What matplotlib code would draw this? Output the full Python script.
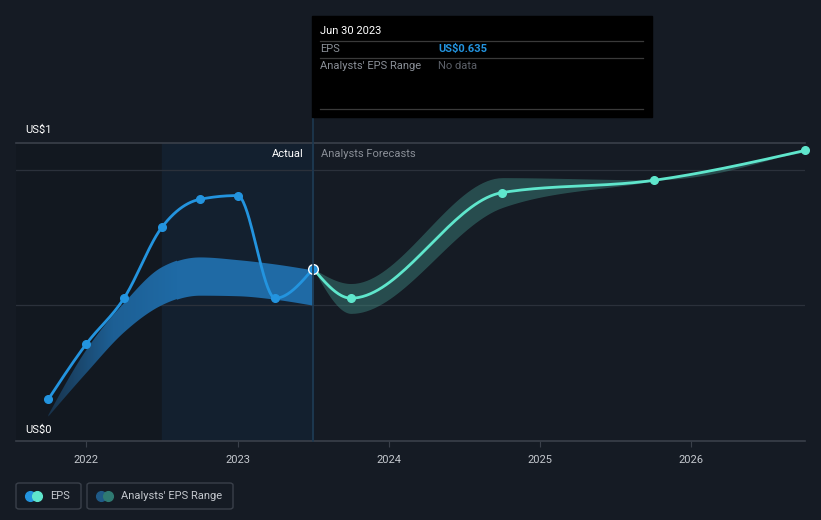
import numpy as np
import matplotlib
matplotlib.use("Agg")
import matplotlib.pyplot as plt
from matplotlib.patches import Rectangle, FancyBboxPatch
from matplotlib.colors import LinearSegmentedColormap

plt.rcParams['font.family'] = ['Roboto', 'DejaVu Sans']

# data (x in decimal years)
eps_x = [2021.75, 2022.0, 2022.25, 2022.5, 2022.75, 2023.0, 2023.25, 2023.5]
eps_y = [0.154, 0.357, 0.526, 0.787, 0.890, 0.904, 0.526, 0.635]

past_rng_x = [2021.75, 2022.0, 2022.25, 2022.5, 2022.75, 2023.0, 2023.25, 2023.5]
past_rng_hi = [0.096, 0.335, 0.508, 0.640, 0.678, 0.668, 0.652, 0.630]
past_rng_lo = [0.090, 0.250, 0.400, 0.500, 0.537, 0.535, 0.522, 0.500]

fc_x = [2023.5, 2023.75, 2024.75, 2025.75, 2026.75]
fc_y = [0.635, 0.526, 0.915, 0.960, 1.070]
fc_hi = [0.635, 0.580, 0.970, 0.962, 1.075]
fc_lo = [0.635, 0.470, 0.860, 0.958, 1.065]

years = [2022, 2023, 2024, 2025, 2026]

BG = '#151b24'
BLUE = '#2394df'
TEAL = '#5fe6cc'


def monotone(x, y, n=40):
    # d3 curveMonotoneX style smoothing for drawing
    x = np.asarray(x, float)
    y = np.asarray(y, float)
    h = np.diff(x)
    s = np.diff(y) / h
    t = np.zeros(len(x))
    for i in range(1, len(x) - 1):
        p = (s[i - 1] * h[i] + s[i] * h[i - 1]) / (h[i - 1] + h[i])
        t[i] = (np.sign(s[i - 1]) + np.sign(s[i])) * min(abs(s[i - 1]), abs(s[i]), 0.5 * abs(p))
    t[0] = (3 * s[0] - t[1]) / 2
    t[-1] = (3 * s[-1] - t[-2]) / 2
    xs, ys = [], []
    for i in range(len(x) - 1):
        u = np.linspace(0, 1, n)
        h00 = 2 * u**3 - 3 * u**2 + 1
        h10 = u**3 - 2 * u**2 + u
        h01 = -2 * u**3 + 3 * u**2
        h11 = u**3 - u**2
        xs.append(x[i] + u * h[i])
        ys.append(h00 * y[i] + h10 * h[i] * t[i] + h01 * y[i + 1] + h11 * h[i] * t[i + 1])
    return np.concatenate(xs), np.concatenate(ys)


W, H = 821, 520
fig = plt.figure(figsize=(W / 100, H / 100), dpi=100)
fig.patch.set_facecolor(BG)

x0, x1 = 16, 805
ytop, ybot = 143, 441
ax = fig.add_axes([x0 / W, 1 - ybot / H, (x1 - x0) / W, (ybot - ytop) / H])
ax.set_facecolor(BG)

px_per_year = 151.3
x2022 = 86.2
xmin = 2022 - (x2022 - x0) / px_per_year
xmax = 2022 + (x1 - x2022) / px_per_year
ymax = (ybot - ytop) / 271.5
ax.set_xlim(xmin, xmax)
ax.set_ylim(0, ymax)

# shaded regions
ax.axvspan(xmin, 2022.5, color='#121820', zorder=0)
ax.axvspan(2022.5, 2023.5, color='#13202f', zorder=0)
ax.axvline(2023.5, color='#1d3850', lw=1.2, zorder=1)

# grid
for g in [0.5, 1.0]:
    ax.axhline(g, color='#2b313b', lw=0.9, zorder=1)
ax.axhline(ymax, color='#3a404a', lw=1.2, zorder=1, clip_on=False)

for sp in ax.spines.values():
    sp.set_visible(False)
ax.axhline(0, color='#3a404a', lw=1.2, clip_on=False, zorder=1)

ax.set_yticks([])
ax.set_xticks(years)
ax.set_xticklabels([str(y) for y in years], color='#c4c8ce', fontsize=8)
ax.tick_params(axis='x', length=4, color='#3a404a', pad=6)

# past range band, fading in from the left
bx, bhi = monotone(past_rng_x, past_rng_hi)
_, blo = monotone(past_rng_x, past_rng_lo)
band = ax.fill_between(bx, blo, bhi, color='none', lw=0, zorder=2)
cmap = LinearSegmentedColormap.from_list('fade', ['#18324a', '#1d5f94', '#1f6aa5'])
grad = np.linspace(0, 1, 256).reshape(1, -1)
img = ax.imshow(grad, cmap=cmap, aspect='auto', extent=[past_rng_x[0], 2022.6, 0, 1.0],
                zorder=2, interpolation='bilinear')
img.set_clip_path(band.get_paths()[0], transform=ax.transData)
ax.fill_between(bx[bx >= 2022.59], blo[bx >= 2022.59], bhi[bx >= 2022.59], color='#1f6aa5', lw=0, zorder=2)
ax.set_xlim(xmin, xmax)
ax.set_ylim(0, ymax)

# forecast band
fx, fhi = monotone(fc_x, fc_hi)
_, flo = monotone(fc_x, fc_lo)
ax.fill_between(fx, flo, fhi, color='#3f8a82', alpha=0.45, lw=0, zorder=2)

# lines
lx, ly = monotone(eps_x, eps_y)
ax.plot(lx, ly, color=BLUE, lw=2.0, zorder=3, solid_capstyle='round')
ax.plot(eps_x[:-1], eps_y[:-1], 'o', color=BLUE, ms=5.5, zorder=4)

gx, gy = monotone(fc_x, fc_y)
ax.plot(gx, gy, color=TEAL, lw=2.0, zorder=3, solid_capstyle='round')
ax.plot(fc_x[1:], fc_y[1:], 'o', color=TEAL, ms=5.5, zorder=4, clip_on=False)

ax.plot(eps_x[-1], eps_y[-1], 'o', color=BLUE, mec='white', mew=1.0, ms=7, zorder=5)

# labels in plot
ax.text(2023.5 - 0.06, 1.057, 'Actual', color='#ffffff', fontsize=8, ha='right', va='center', zorder=6)
ax.text(2023.5 + 0.05, 1.057, 'Analysts Forecasts', color='#8a8f97', fontsize=8, ha='left', va='center', zorder=6)

fig.text(25 / W, 1 - 130 / H, 'US$1', color='#ffffff', fontsize=8, ha='left', va='center')
fig.text(25 / W, 1 - 430 / H, 'US$0', color='#ffffff', fontsize=8, ha='left', va='center')

# tooltip
fig.patches.append(Rectangle((312 / W, 1 - 117 / H), 340 / W, 101 / H,
                             transform=fig.transFigure, color='#000000', zorder=10))
fig.add_artist(plt.Line2D([313 / W, 313 / W], [1 - 441 / H, 1 - 117 / H], color='#1d3850', lw=1.2, zorder=9))
for yy in [41, 58, 109]:
    fig.add_artist(plt.Line2D([320 / W, 643 / W], [1 - yy / H, 1 - yy / H], color='#3a3a3a', lw=0.9, zorder=11))
fig.text(320 / W, 1 - 31 / H, 'Jun 30 2023', color='#ffffff', fontsize=8, va='center', zorder=12)
fig.text(320 / W, 1 - 49 / H, 'EPS', color='#8a8f97', fontsize=8, va='center', zorder=12)
fig.text(438 / W, 1 - 49 / H, 'US$0.635', color=BLUE, fontsize=8, fontweight='bold', va='center', zorder=12)
fig.text(320 / W, 1 - 66 / H, "Analysts' EPS Range", color='#8a8f97', fontsize=8, va='center', zorder=12)
fig.text(438 / W, 1 - 66 / H, 'No data', color='#5c6068', fontsize=8, va='center', zorder=12)

# legend
def legend_box(xl, xr, c1, c2, label):
    fig.patches.append(FancyBboxPatch((xl / W, 1 - 509 / H), (xr - xl) / W, 26 / H,
                                      boxstyle='round,pad=0,rounding_size=0.004',
                                      transform=fig.transFigure, fc=BG, ec='#3a404a', lw=1.0))
    fig.add_artist(plt.Line2D([(xl + 14) / W], [1 - 496 / H], marker='o', ms=7, color=c1, lw=0))
    fig.add_artist(plt.Line2D([(xl + 21) / W], [1 - 496 / H], marker='o', ms=7, color=c2, lw=0))
    fig.text((xl + 34) / W, 1 - 496 / H, label, color='#c4c8ce', fontsize=8, va='center')

legend_box(16, 81, BLUE, TEAL, 'EPS')
legend_box(87, 233, '#1f5a87', '#2f7a72', "Analysts' EPS Range")

fig.savefig('out.png', dpi=100, facecolor=BG)
